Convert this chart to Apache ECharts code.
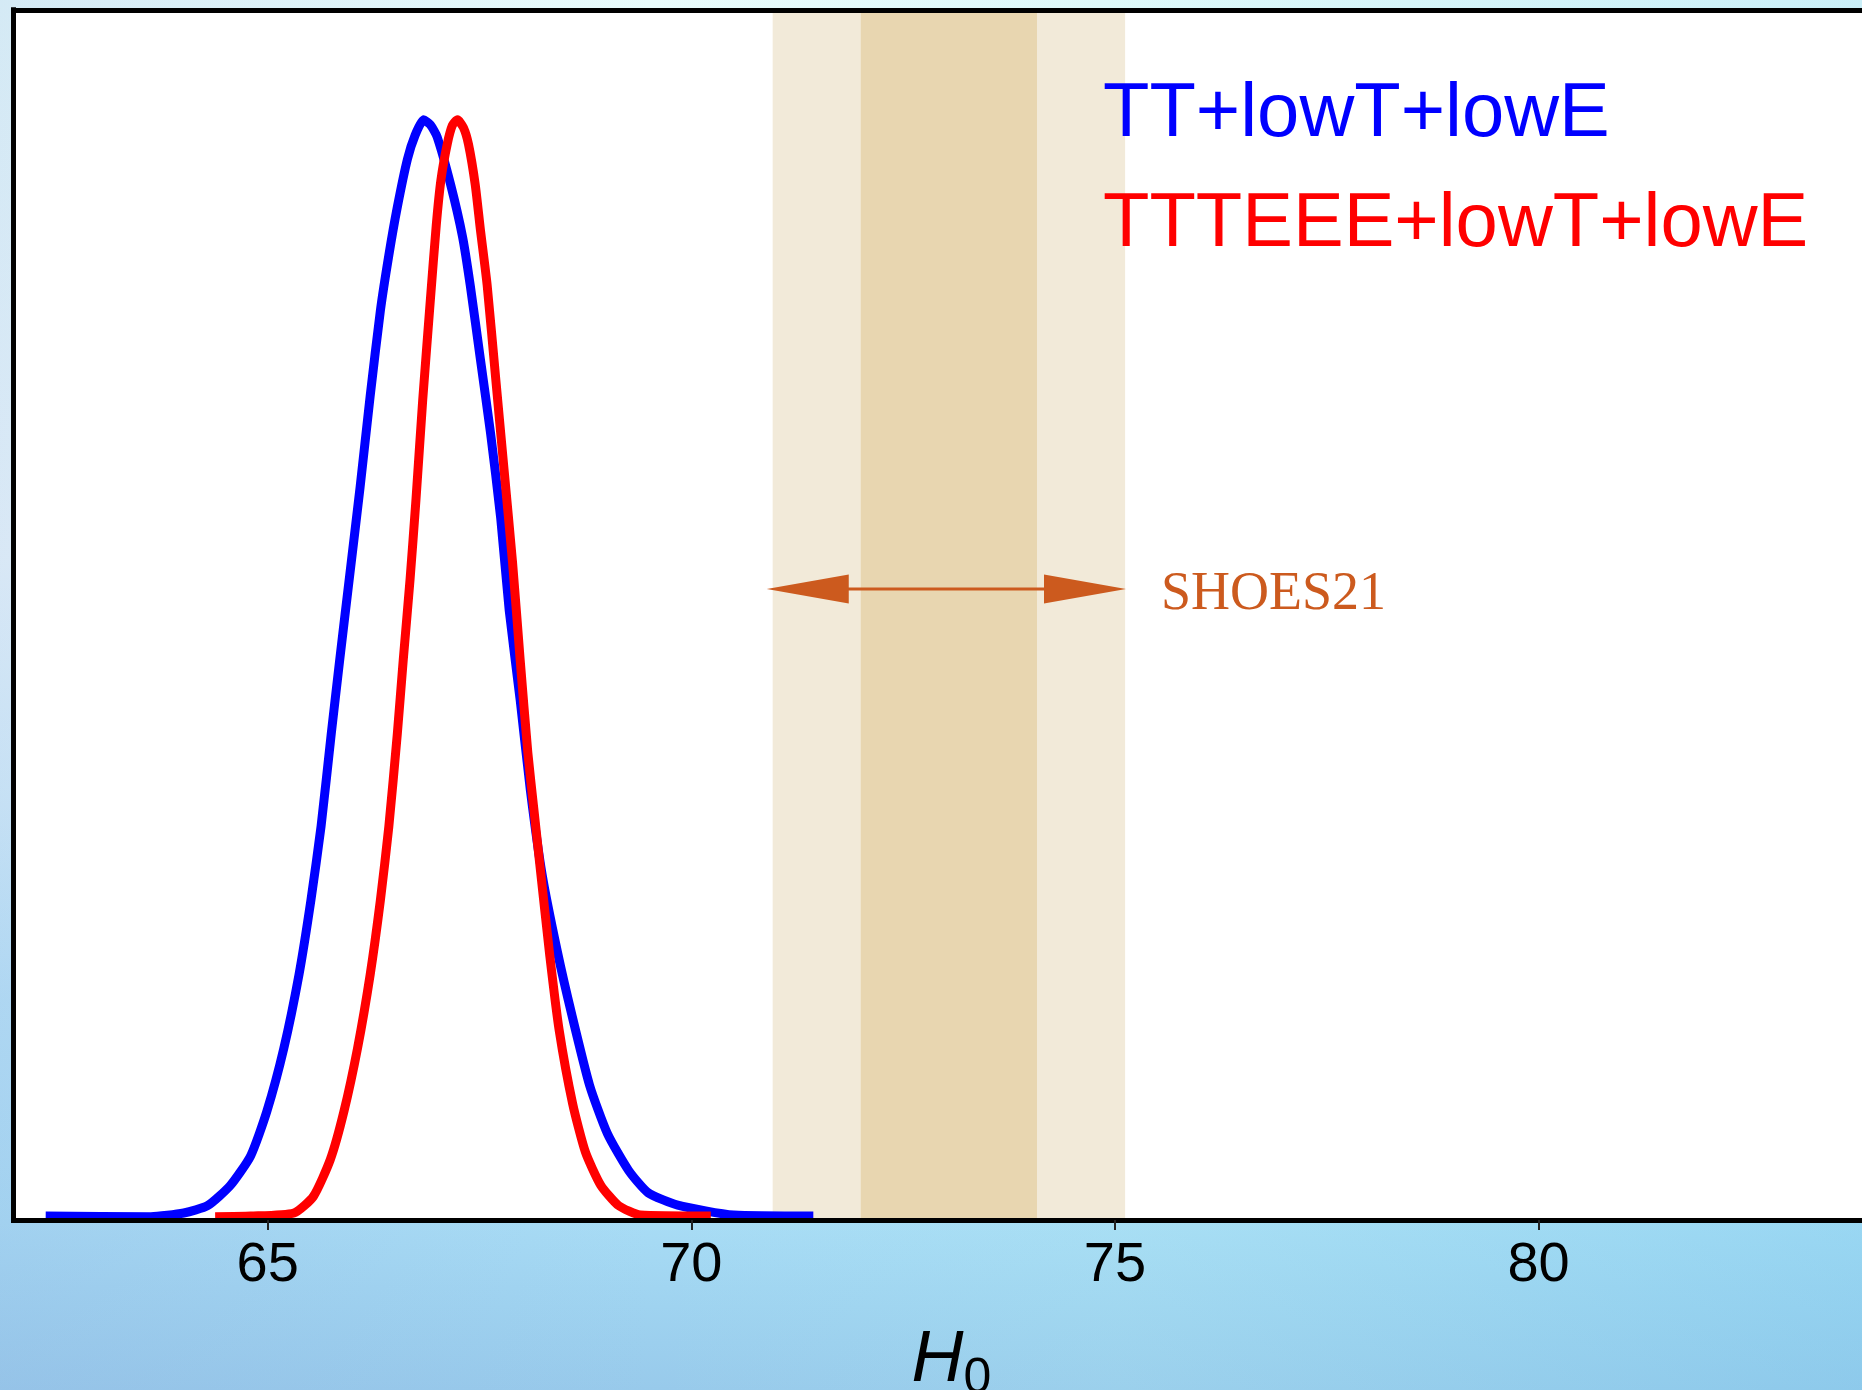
<!DOCTYPE html>
<html>
<head>
<meta charset="utf-8">
<script src="https://cdn.jsdelivr.net/npm/echarts@6/dist/echarts.min.js"></script>
<style>
  html, body { margin: 0; padding: 0; }
  #chart {
    width: 1862px; height: 1390px;
    background:
      linear-gradient(90deg, rgba(140,170,220,0.22) 0%, rgba(150,190,230,0.0) 35%, rgba(170,235,240,0.18) 60%, rgba(110,200,235,0.25) 100%),
      linear-gradient(180deg, #E9FCFC 0%, #EEF9FD 40%, #D5EFFB 58%, #B8E3F8 72%, #A8DCF5 88%, #9FD3F0 94%, #98CAEB 100%);
  }
</style>
</head>
<body>
<div id="chart"></div>
<script>
// ---- data ----
const xMin = 62;
const xMax = 84;
const tickValues = [65, 70, 75, 80];
const seriesNames = ['TT+lowT+lowE', 'TTTEEE+lowT+lowE'];

// TT+lowT+lowE posterior (normalised to peak = 1)
const ttH0 = [62.38, 63.62, 64.01, 64.29, 64.56, 64.80, 64.99, 65.19, 65.37, 65.51, 65.63, 65.75, 65.85, 65.96, 66.09, 66.21, 66.33, 66.43, 66.53, 66.65, 66.74, 66.84, 66.92, 67.00, 67.16, 67.30, 67.39, 67.51, 67.63, 67.75, 67.85, 67.98, 68.10, 68.24, 68.42, 68.59, 68.80, 69.01, 69.26, 69.49, 69.84, 70.50, 71.44];
const ttP  = [0.0036, 0.003, 0.0064, 0.013, 0.0315, 0.0585, 0.0987, 0.1559, 0.2232, 0.2905, 0.3577, 0.4418, 0.5091, 0.5809, 0.6655, 0.7491, 0.8265, 0.8769, 0.9206, 0.9644, 0.986, 1.0, 0.9955, 0.9845, 0.9409, 0.8937, 0.85, 0.7827, 0.7155, 0.6382, 0.5545, 0.4727, 0.3909, 0.3136, 0.2436, 0.1864, 0.1223, 0.0785, 0.045, 0.0248, 0.0136, 0.0045, 0.0036];

// TTTEEE+lowT+lowE posterior
const tteeH0 = [64.38, 64.80, 65.31, 65.54, 65.74, 65.90, 66.06, 66.21, 66.33, 66.43, 66.53, 66.60, 66.68, 66.75, 66.83, 66.92, 66.99, 67.045, 67.12, 67.18, 67.24, 67.31, 67.37, 67.45, 67.51, 67.59, 67.69, 67.79, 67.89, 67.98, 68.07, 68.14, 68.21, 68.33, 68.44, 68.60, 68.75, 68.93, 69.14, 69.40, 70.23];
const tteeP  = [0.003, 0.0036, 0.0064, 0.0215, 0.0551, 0.0987, 0.1559, 0.2232, 0.2905, 0.3577, 0.4418, 0.5091, 0.5818, 0.6545, 0.7455, 0.8364, 0.9045, 0.9455, 0.9782, 0.995, 1.0, 0.993, 0.9778, 0.9409, 0.9005, 0.85, 0.7659, 0.6818, 0.5978, 0.5091, 0.425, 0.3745, 0.3245, 0.24, 0.1727, 0.1055, 0.0618, 0.0318, 0.0132, 0.0045, 0.0036];

// SH0ES 2021 bands (1 sigma and 2 sigma) and arrow
const shoesLabel = 'SHOES21';
const shoesInner = [72.0, 74.08];
const shoesOuter = [70.96, 75.12];
const shoesArrow = [70.89, 75.13];
const shoesArrowLevel = 0.5736;

// ---- chart ----
const chart = echarts.init(document.getElementById('chart'), null, { renderer: 'canvas' });
const arrowColor = '#CC5A1E';
const sans = '"Liberation Sans", Arial, sans-serif';

const option = {
  backgroundColor: 'transparent',
  animation: false,
  grid: {
    left: 13.5, top: 9.8, width: 1864, height: 1210.2,
    outerBoundsMode: 'none', containLabel: false,
    show: true, backgroundColor: '#ffffff', borderWidth: 0
  },
  legend: {
    orient: 'vertical',
    left: 1093, top: 72,
    itemWidth: 0, itemHeight: 0, itemGap: 34,
    icon: 'rect',
    itemStyle: { opacity: 0 },
    selectedMode: false,
    textStyle: { fontSize: 76, fontFamily: sans },
    data: [
      { name: seriesNames[0], textStyle: { color: '#0000FF' } },
      { name: seriesNames[1], textStyle: { color: '#FF0000' } }
    ]
  },
  xAxis: [
    {
      type: 'value', min: xMin, max: xMax, z: 10,
      position: 'bottom',
      axisLine: { show: true, onZero: false, lineStyle: { color: '#000', width: 5, cap: 'square' } },
      axisTick: { show: true, inside: false, length: 10, customValues: tickValues, lineStyle: { color: '#222', width: 2 } },
      axisLabel: { show: true, customValues: tickValues, margin: 18, color: '#000', fontSize: 56,
                   fontFamily: '"Liberation Sans Narrow", "Liberation Sans", sans-serif' },
      splitLine: { show: false },
      name: '{h|H}{s|0}',
      nameLocation: 'middle',
      nameGap: 98,
      nameTextStyle: {
        rich: {
          h: { fontSize: 72, fontStyle: 'italic', fontFamily: sans, color: '#000', padding: [0, 0, 0, 12] },
          s: { fontSize: 50, fontFamily: sans, color: '#000', padding: [36, 0, 0, 0] }
        }
      }
    },
    {
      type: 'value', min: xMin, max: xMax, z: 10,
      position: 'top',
      axisLine: { show: true, onZero: false, lineStyle: { color: '#000', width: 5, cap: 'square' } },
      axisTick: { show: false }, axisLabel: { show: false }, splitLine: { show: false }
    }
  ],
  yAxis: {
    type: 'value', min: 0, max: 1.1, z: 10,
    axisLine: { show: true, onZero: false, lineStyle: { color: '#000', width: 5, cap: 'square' } },
    axisTick: { show: false }, axisLabel: { show: false }, splitLine: { show: false }
  },
  series: [
    {
      name: 'bands', type: 'line', data: [], z: 1, silent: true, xAxisIndex: 0,
      markArea: {
        silent: true,
        data: [
          [{ xAxis: shoesOuter[0], itemStyle: { color: '#F2EAD9' } }, { xAxis: shoesOuter[1] }],
          [{ xAxis: shoesInner[0], itemStyle: { color: '#E8D6B0' } }, { xAxis: shoesInner[1] }]
        ]
      }
    },
    {
      name: seriesNames[0], type: 'line', z: 3, xAxisIndex: 0,
      data: ttH0.map((x, i) => [x, ttP[i]]),
      showSymbol: false, symbol: 'none', smooth: 0.2,
      lineStyle: { color: '#0000FF', width: 9, join: 'round', cap: 'butt' }, itemStyle: { color: '#0000FF' }
    },
    {
      name: seriesNames[1], type: 'line', z: 4, xAxisIndex: 0,
      data: tteeH0.map((x, i) => [x, tteeP[i]]),
      showSymbol: false, symbol: 'none', smooth: 0.2,
      lineStyle: { color: '#FF0000', width: 9, join: 'round', cap: 'butt' }, itemStyle: { color: '#FF0000' }
    },
    {
      name: 'arrow', type: 'custom', z: 5, silent: true, xAxisIndex: 0,
      data: [[shoesArrow[0], shoesArrow[1], shoesArrowLevel]],
      renderItem: function (params, api) {
        const p1 = api.coord([api.value(0), api.value(2)]);
        const p2 = api.coord([api.value(1), api.value(2)]);
        const L = 82, W = 14.5;
        return {
          type: 'group',
          children: [
            { type: 'line', shape: { x1: p1[0] + L - 2, y1: p1[1], x2: p2[0] - L + 2, y2: p2[1] },
              style: { stroke: arrowColor, lineWidth: 3 } },
            { type: 'polygon', shape: { points: [[p1[0], p1[1]], [p1[0] + L, p1[1] - W], [p1[0] + L, p1[1] + W]] },
              style: { fill: arrowColor } },
            { type: 'polygon', shape: { points: [[p2[0], p2[1]], [p2[0] - L, p2[1] - W], [p2[0] - L, p2[1] + W]] },
              style: { fill: arrowColor } },
            { type: 'text', x: p2[0] + 35, y: p2[1] + 6,
              style: { text: shoesLabel, fill: arrowColor, fontSize: 54, fontFamily: '"Liberation Serif", serif',
                       align: 'left', verticalAlign: 'middle' } }
          ]
        };
      }
    }
  ]
};
chart.setOption(option);
</script>
</body>
</html>
